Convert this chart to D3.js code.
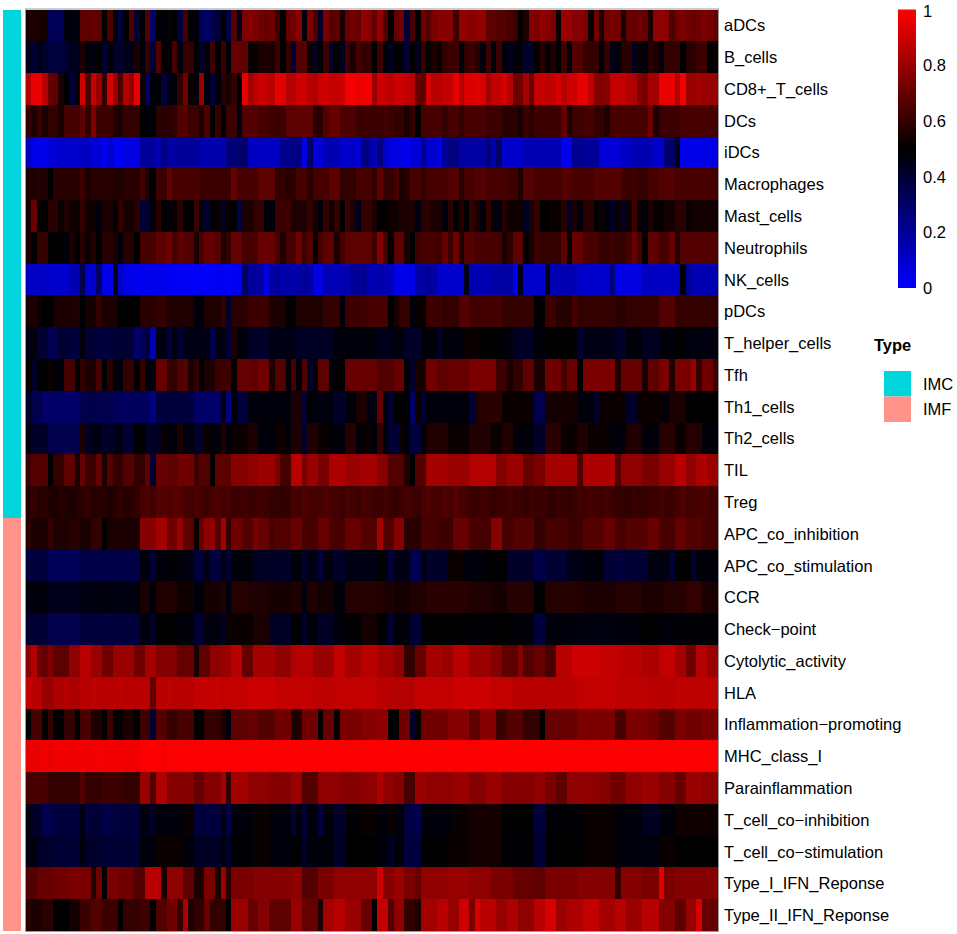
<!DOCTYPE html>
<html>
<head>
<meta charset="utf-8">
<script src="https://cdn.jsdelivr.net/npm/d3@7"></script>
<style>
  body { margin: 0; background: #fff; }
  text { font-family: "Liberation Sans", Arial, sans-serif; }
</style>
</head>
<body>
<script>
// row labels (R prints "-" as a minus sign)
const rowNames = ["aDCs", "B_cells", "CD8+_T_cells", "DCs", "iDCs", "Macrophages", "Mast_cells",
  "Neutrophils", "NK_cells", "pDCs", "T_helper_cells", "Tfh", "Th1_cells", "Th2_cells", "TIL", "Treg",
  "APC_co_inhibition", "APC_co_stimulation", "CCR", "Check\u2212point", "Cytolytic_activity", "HLA",
  "Inflammation\u2212promoting", "MHC_class_I", "Parainflammation", "T_cell_co\u2212inhibition",
  "T_cell_co\u2212stimulation", "Type_I_IFN_Reponse", "Type_II_IFN_Reponse"];
const rowType = ["IMC","IMC","IMC","IMC","IMC","IMC","IMC","IMC","IMC","IMC","IMC","IMC","IMC","IMC","IMC","IMC",
  "IMF","IMF","IMF","IMF","IMF","IMF","IMF","IMF","IMF","IMF","IMF","IMF","IMF"];
const typeNames = ["IMC", "IMF"];
const legendTicks = [0, 0.2, 0.4, 0.6, 0.8, 1];

// scores x100, one array per row, 128 samples each
const aDCs = [55,56,55,54,33,32,34,48,48,47,68,68,70,68,50,65, 48,38,50,65,40,50,66,30,50,48,52,50,38,64,50,47,
  33,30,35,40,50,36,66,45,74,76,74,72,70,72,62,50, 70,72,76,48,74,64,42,74,66,68,55,70,72,70,78,76,
  70,78,66,50,70,72,38,64,50,72,66,74,76,76,76,62, 78,78,76,78,78,68,68,66,66,64,62,50,56,76,74,78,
  76,74,52,80,80,76,76,74,52,72,55,72,74,72,55,70, 70,72,70,55,78,78,76,65,72,74,72,70,72,74,72,70];
const bCells = [45,40,46,42,38,37,38,40,45,44,55,48,47,50,40,48, 42,42,45,46,55,48,60,40,66,50,48,64,48,60,60,50,
  42,47,62,50,62,48,70,70,68,52,52,55,56,55,62,50, 60,40,66,66,52,42,50,62,42,50,44,62,55,64,60,60,
  50,62,50,44,50,48,40,50,45,60,50,55,52,60,62,62, 48,60,62,58,48,62,48,62,48,45,48,48,42,42,50,58,
  48,55,50,62,48,66,66,60,60,60,48,60,45,48,58,58, 44,52,48,58,55,48,60,60,60,50,58,58,62,62,50,52];
const cd8TCells = [85,95,96,86,70,68,55,50,38,52,90,65,88,80,60,92, 80,65,85,78,95,52,30,48,50,38,47,48,60,72,52,48,
  80,48,40,48,58,55,60,50,95,82,86,90,88,86,95,94, 85,86,90,90,86,84,90,90,88,88,90,97,98,96,97,98,
  80,90,88,86,90,90,88,86,70,68,92,86,86,88,88,95, 85,93,93,94,92,82,88,88,92,85,70,72,82,70,88,88,
  87,88,92,86,90,90,95,95,88,76,75,76,88,88,88,85, 84,76,74,82,82,95,96,95,85,97,80,80,82,80,80,80];
const dcs = [60,56,62,55,60,60,55,64,64,63,68,60,75,62,62,62, 56,56,60,60,60,50,48,50,58,58,58,60,66,66,62,62,
  55,65,50,60,50,62,62,46,66,66,66,64,64,62,62,62, 68,68,68,68,68,58,58,66,70,70,65,65,65,62,62,62,
  62,62,63,62,60,60,55,60,50,64,64,64,64,60,64,64, 60,64,64,64,64,62,62,62,58,58,58,55,62,58,62,62,
  62,62,62,70,55,62,62,64,64,60,60,56,64,64,64,64, 64,64,64,72,55,62,62,62,62,64,64,64,64,64,64,64];
const iDCs = [12,5,4,5,8,8,10,10,10,10,12,12,8,8,3,10, 3,3,6,6,6,20,20,20,15,25,18,18,20,20,20,20,
  16,16,16,16,16,26,27,28,30,12,12,12,12,12,12,22, 22,24,25,5,30,8,8,15,15,15,10,10,12,8,25,20,
  15,25,12,6,6,6,3,8,8,22,10,10,5,20,25,25, 18,18,18,18,18,25,15,30,10,10,10,10,15,15,15,15,
  15,15,15,4,4,22,22,20,20,20,8,8,8,8,12,12, 15,15,15,15,10,10,28,30,45,5,5,5,5,5,5,5];
const macrophages = [56,55,57,56,50,58,58,57,58,58,62,55,58,58,57,58, 56,56,58,58,58,63,55,50,62,62,70,64,64,64,64,64,
  62,62,62,62,62,62,70,64,64,64,64,68,68,68,60,60, 58,58,64,64,58,64,64,64,68,68,60,60,60,64,64,64,
  60,68,60,60,64,55,58,64,64,60,64,64,64,64,66,66, 58,64,64,66,66,64,64,64,64,62,62,56,66,66,64,64,
  64,64,64,66,66,64,64,64,64,66,66,66,66,66,62,62, 62,60,60,64,64,66,66,66,64,64,64,64,64,64,64,64];
const mastCells = [55,70,50,50,58,58,52,56,53,53,60,53,53,48,55,55, 50,60,54,54,58,40,40,47,58,50,47,52,58,50,50,62,
  47,42,48,52,42,52,50,35,55,55,60,60,48,48,62,62, 62,56,56,56,60,54,48,60,52,60,50,62,55,45,60,60,
  55,50,50,53,53,55,55,55,47,58,58,55,55,48,58,50, 57,50,60,55,48,60,49,47,58,53,53,53,42,55,60,50,
  50,52,52,58,42,55,48,58,58,50,52,48,43,52,42,53, 62,52,48,55,52,50,54,54,58,58,52,54,54,54,54,54];
const neutrophils = [55,50,60,60,50,50,50,48,55,50,58,52,57,50,58,58, 55,48,57,57,50,64,64,64,68,68,72,64,68,66,66,55,
  64,70,70,66,56,60,70,70,64,64,64,70,70,70,64,56, 64,64,72,62,66,50,64,68,68,55,64,68,68,68,68,68,
  62,76,64,50,68,68,55,50,62,64,64,64,62,70,62,72, 56,66,66,64,64,64,64,64,55,60,68,68,50,55,62,60,
  60,60,60,68,50,70,70,64,64,64,60,60,62,60,60,64, 70,64,50,68,68,64,64,70,56,66,66,66,66,66,66,66];
const nkCells = [12,12,11,12,10,10,10,10,15,15,35,10,10,30,5,5, 45,10,5,4,4,3,4,4,3,4,3,2,2,2,1,2,
  2,1,2,2,3,2,2,3,30,20,20,18,6,18,20,16, 18,15,18,20,18,5,6,15,15,14,16,15,20,20,22,15,
  15,16,15,14,5,5,5,5,18,18,20,18,10,10,10,10, 10,45,15,15,15,15,18,18,18,18,3,45,10,10,10,10,
  45,15,15,15,15,15,10,10,10,10,10,10,25,5,6,6, 6,6,12,12,12,12,12,12,12,50,20,15,15,15,15,15];
const pDCs = [55,55,52,50,50,55,55,55,56,56,50,54,54,60,55,55, 55,50,50,50,50,58,58,58,60,60,56,56,56,56,56,48,
  48,56,56,56,60,42,58,58,58,62,62,62,62,55,55,55, 50,50,56,56,56,56,56,60,60,60,48,62,62,62,62,64,
  64,64,64,50,55,60,60,48,52,52,62,62,62,60,60,60, 66,66,63,63,63,63,63,63,60,60,60,60,60,60,50,50,
  62,62,57,57,57,64,60,60,60,60,60,60,60,58,58,60, 60,60,60,60,60,66,66,66,60,60,60,60,60,60,60,60];
const tHelperCells = [47,47,40,40,35,35,40,40,38,38,47,40,40,38,38,38, 40,40,40,40,30,32,40,15,46,46,38,48,40,46,46,46,
  46,46,35,47,47,40,55,48,48,42,42,42,42,46,46,46, 46,46,43,43,43,43,43,43,43,48,48,48,48,48,48,48,
  48,45,45,45,48,48,42,42,42,48,48,48,42,48,48,48, 48,52,52,52,50,50,50,50,48,48,43,43,43,43,48,48,
  50,50,50,50,50,50,40,46,46,46,46,46,46,42,42,48, 48,48,44,44,44,48,48,48,50,50,47,47,47,47,47,47];
const tfh = [52,42,50,50,52,48,48,64,64,50,60,55,55,64,50,58, 48,48,60,60,50,60,48,48,70,70,60,60,66,66,55,60,
  50,55,55,62,62,62,50,70,70,70,68,72,72,55,66,66, 48,64,48,66,42,50,68,68,48,50,50,70,70,70,70,70,
  70,66,66,66,70,70,50,42,54,54,72,72,68,68,70,70, 70,70,74,74,74,74,74,62,62,55,60,60,68,68,55,55,
  72,72,72,64,70,70,50,74,74,74,74,74,74,56,70,70, 70,70,55,68,68,74,74,56,74,74,74,80,60,72,72,62];
const th1Cells = [42,35,35,30,30,30,30,30,30,30,35,35,36,35,35,35, 32,32,32,32,32,32,32,25,38,38,38,38,38,38,38,30,
  30,30,30,30,48,25,48,38,38,48,48,48,48,48,48,48, 48,55,55,40,50,47,47,47,47,42,42,48,48,55,55,47,
  47,70,48,40,50,50,50,30,52,38,48,48,48,48,48,48, 48,48,40,56,58,58,58,58,52,52,52,52,52,52,35,35,
  54,54,54,54,54,54,48,48,48,42,52,52,52,52,52,42, 42,52,52,52,52,52,48,55,55,55,50,50,50,50,50,50];
const th2Cells = [47,42,42,42,35,35,35,35,35,35,55,42,46,46,42,42, 46,46,40,40,50,50,43,43,43,52,48,48,55,47,47,42,
  42,52,48,48,56,48,52,52,52,55,55,48,48,48,53,53, 48,56,56,42,56,56,52,52,48,48,48,58,58,48,52,52,
  48,60,48,40,40,52,48,38,38,48,56,56,56,56,52,52, 52,52,56,56,56,56,52,52,56,56,48,48,48,48,42,42,
  58,58,58,52,52,52,56,56,52,52,52,52,48,48,48,56, 56,56,48,48,48,58,58,58,52,52,57,57,57,48,48,48];
const til = [62,66,66,66,50,60,60,68,68,55,70,62,62,70,55,66, 60,60,66,66,60,60,68,40,70,70,68,68,72,72,72,62,
  66,66,50,68,68,68,76,76,76,78,78,80,80,80,74,64, 64,86,86,74,80,80,74,74,84,84,84,80,80,80,82,82,
  82,76,76,66,66,66,56,50,66,66,82,82,82,82,80,80, 80,80,85,85,85,85,85,76,76,80,80,80,70,70,74,74,
  82,82,82,82,82,82,65,84,84,84,84,84,84,66,78,78, 78,78,74,74,74,80,80,80,86,86,78,78,84,84,80,80];
const treg = [58,60,57,58,56,55,57,56,55,57,58,60,57,58,58,56, 58,60,57,58,60,64,65,63,66,66,65,67,66,64,63,65,
  64,62,64,65,63,64,62,62,63,61,62,63,62,60,60,59, 60,64,63,65,64,63,64,65,64,63,62,64,63,62,64,63,
  62,62,63,61,60,62,63,62,61,64,65,64,63,65,64,66, 64,63,62,61,63,62,60,62,62,63,61,62,60,62,61,62,
  60,59,61,60,60,61,63,62,64,63,62,63,62,60,60,59, 61,60,60,62,62,63,61,62,64,65,63,64,64,65,63,64];
const apcCoInhibition = [58,55,55,55,60,56,56,56,58,58,55,55,60,60,50,55, 55,55,55,55,55,76,76,76,82,82,72,72,80,68,68,52,
  70,78,78,66,82,60,72,72,66,66,74,70,70,64,66,66, 66,70,70,64,64,64,70,70,64,64,64,70,70,70,66,66,
  66,82,66,66,76,76,58,58,58,64,64,64,62,62,62,70, 70,70,64,64,64,64,76,76,64,64,66,66,66,66,60,60,
  64,64,64,64,62,62,62,66,66,66,66,70,70,64,64,66, 66,66,66,70,70,64,64,64,70,70,66,66,66,64,64,64];
const apcCoStimulation = [38,38,38,38,33,33,33,33,33,33,36,36,36,36,36,36, 36,36,36,36,36,47,47,40,48,48,48,50,47,47,47,38,
  38,46,38,38,47,40,48,48,48,48,43,43,43,43,43,42, 42,48,48,42,46,46,38,47,47,42,42,46,46,46,46,46,
  46,50,48,38,46,46,46,35,35,47,42,42,42,42,52,52, 52,48,48,48,48,50,50,50,50,42,42,42,42,42,36,36,
  40,40,40,40,46,46,46,48,48,48,48,40,40,38,38,40, 40,40,40,47,47,47,47,40,50,50,50,40,48,48,48,48];
const ccr = [48,48,48,48,45,45,45,45,45,45,47,47,46,47,48,47, 47,46,47,47,47,55,55,48,56,56,56,56,53,53,53,48,
  48,54,54,54,56,48,57,57,57,56,56,56,56,54,54,54, 54,56,56,48,56,56,54,54,54,48,48,57,57,57,57,57,
  57,57,55,56,54,54,54,56,56,56,58,58,58,58,58,58, 58,58,56,56,56,56,54,54,54,57,57,57,57,57,50,50,
  57,57,57,57,57,57,57,55,55,55,55,55,55,57,57,57, 57,57,55,55,55,55,57,57,57,57,60,60,60,55,55,55];
const checkPoint = [40,40,40,40,35,35,35,35,35,35,38,38,38,38,38,38, 38,38,38,38,38,47,47,42,50,50,50,50,48,48,48,40,
  40,47,47,47,42,52,52,52,52,52,55,55,55,43,43,43, 43,50,50,42,48,48,43,43,43,48,48,50,50,50,54,54,
  54,50,48,40,48,48,48,40,40,50,50,50,50,50,50,50, 50,50,49,49,49,49,50,50,50,50,48,48,48,48,38,38,
  48,48,48,48,48,48,47,47,47,47,47,47,47,48,48,48, 48,48,50,50,50,48,48,48,49,49,49,49,49,49,49,49];
const cytolyticActivity = [78,85,72,70,75,68,68,68,78,78,86,86,80,80,72,72, 80,80,80,80,72,72,82,82,76,76,76,76,70,70,70,55,
  68,68,78,78,80,80,86,86,70,70,82,82,82,82,78,78, 78,85,85,85,85,80,80,80,80,88,88,82,82,82,86,86,
  86,82,82,82,78,78,60,60,70,70,82,82,82,80,80,86, 86,86,80,80,80,80,76,76,68,68,68,76,66,66,70,70,
  64,64,86,86,86,90,90,90,90,90,88,88,88,88,86,86, 86,86,84,84,84,88,88,88,82,82,72,72,85,85,80,80];
const hla = [88,86,86,80,80,84,84,85,84,84,86,86,87,86,86,86, 86,87,86,86,86,86,86,70,86,86,87,86,86,86,86,88,
  88,88,88,89,88,88,88,88,88,90,90,90,90,90,88,88, 88,88,88,88,88,87,87,87,87,88,88,88,88,88,88,88,
  88,86,86,86,85,85,85,85,88,88,88,88,88,88,88,90, 90,90,90,90,90,90,88,88,88,88,86,86,86,86,86,86,
  86,86,86,86,86,86,88,88,88,88,88,88,88,87,87,87, 87,87,87,86,86,86,86,86,87,87,87,87,87,87,87,87];
const inflammationPromoting = [50,64,64,50,60,50,50,60,60,50,64,64,56,56,50,62, 50,50,55,55,50,62,62,40,66,66,60,60,64,64,64,50,
  50,60,60,60,55,48,68,68,68,70,70,66,66,66,72,72, 72,56,56,72,72,72,50,70,70,50,74,74,74,74,76,76,
  76,78,78,50,50,72,72,42,50,72,72,72,72,72,76,76, 76,76,68,68,76,76,76,62,62,66,66,66,60,60,60,50,
  70,70,70,70,70,70,74,74,74,74,74,74,74,64,64,74, 74,74,74,72,72,66,66,66,74,74,72,72,72,74,74,74];
const mhcClassI = [96,95,96,97,96,97,97,98,97,97,98,97,97,98,97,98, 97,98,97,97,97,99,99,100,99,98,99,99,99,100,99,99,
  99,100,99,99,100,99,99,100,99,99,100,99,100,99,99,100, 99,100,100,99,99,100,100,99,100,100,99,99,100,100,99,100,
  100,99,100,100,99,100,100,99,100,99,100,100,99,100,100,99, 100,100,99,100,100,99,100,100,100,99,100,100,99,100,100,100,
  99,100,100,100,99,100,100,100,99,100,100,99,100,100,100,99, 100,100,100,99,100,100,99,100,100,100,99,100,100,100,100,100];
const parainflammation = [64,64,64,64,60,60,60,60,60,60,66,60,60,60,62,62, 62,62,60,60,60,80,80,66,84,84,76,76,76,76,76,70,
  70,76,76,76,82,60,82,82,82,78,78,78,78,76,76,76, 76,80,80,66,66,66,78,78,78,78,76,76,76,76,78,78,
  78,84,78,78,76,76,64,64,80,80,78,78,78,78,78,80, 80,80,76,76,76,80,80,80,76,76,76,76,76,76,78,78,
  74,74,68,68,78,78,78,78,78,78,76,76,72,72,72,78, 78,78,80,80,80,76,76,76,70,70,80,80,80,78,78,78];
const tCellCoInhibition = [47,42,42,35,35,38,38,38,38,38,46,38,40,40,36,36, 38,38,38,38,38,47,47,42,48,48,48,48,48,52,52,38,
  38,38,38,38,47,36,48,48,48,48,52,52,52,48,48,48, 48,40,48,40,48,48,38,48,48,42,42,49,49,49,52,52,
  52,48,48,52,48,48,38,35,35,48,48,48,48,48,48,52, 52,52,54,54,54,54,54,54,50,50,50,50,50,50,38,38,
  49,49,49,49,49,49,49,52,52,52,52,52,52,48,48,48, 48,48,44,44,44,48,48,48,53,53,53,53,53,53,53,53];
const tCellCoStimulation = [47,47,42,42,42,40,40,40,40,40,47,42,42,42,40,40, 40,40,40,40,40,48,48,48,52,52,52,52,52,48,48,43,
  43,43,43,43,48,42,49,49,49,49,52,52,52,48,48,48, 48,50,50,42,48,48,48,48,48,42,42,50,50,50,50,50,
  50,48,48,43,48,48,38,38,38,50,50,50,50,50,52,52, 52,52,54,54,54,54,54,54,49,49,49,49,49,49,40,40,
  50,50,50,50,50,50,50,52,52,52,52,52,52,48,48,48, 48,48,47,47,47,52,52,52,50,50,50,50,50,50,50,50];
const typeIIfn = [66,66,70,70,70,72,72,72,74,74,74,74,56,72,50,74, 74,72,72,72,66,66,86,86,86,55,78,78,78,68,68,55,
  55,74,74,55,80,58,74,74,74,74,76,76,76,76,76,76, 76,78,78,66,66,66,74,74,74,78,78,78,78,78,78,78,
  78,90,76,76,80,80,74,74,70,78,78,78,78,78,80,80, 80,80,78,78,78,78,74,74,74,74,70,70,70,70,68,68,
  74,74,74,74,74,74,76,76,76,76,76,76,76,60,76,76, 76,76,74,74,74,94,74,74,76,76,76,76,76,76,76,76];
const typeIIIfn = [58,55,55,58,58,50,50,50,54,54,62,62,66,66,62,62, 62,50,60,60,60,62,62,50,66,66,72,72,60,84,56,60,
  60,70,60,60,60,50,80,80,80,70,70,76,76,68,68,68, 68,80,80,70,70,70,55,82,82,86,86,80,80,80,70,70,
  50,88,88,66,78,78,60,60,55,82,82,82,86,86,80,80, 90,90,74,92,86,86,86,80,80,84,84,78,78,78,86,86,
  92,92,80,80,84,84,84,88,88,88,82,82,82,86,86,80, 80,80,86,86,86,76,76,76,68,68,80,80,92,70,70,70];

const matrix = [aDCs, bCells, cd8TCells, dcs, iDCs, macrophages, mastCells, neutrophils, nkCells, pDCs,
  tHelperCells, tfh, th1Cells, th2Cells, til, treg, apcCoInhibition, apcCoStimulation, ccr, checkPoint,
  cytolyticActivity, hla, inflammationPromoting, mhcClassI, parainflammation, tCellCoInhibition,
  tCellCoStimulation, typeIIfn, typeIIIfn];

const width = 957, height = 934;
const svg = d3.select("body").append("svg")
    .attr("width", width)
    .attr("height", height);

const plotTop = 9.5, plotBottom = 931;
const nCols = aDCs.length;
const x = d3.scaleBand().domain(d3.range(nCols)).range([26, 718]);
const y = d3.scaleBand().domain(rowNames).range([plotTop, plotBottom]);

const color = d3.scaleLinear()
    .domain([0, 50, 100])
    .range(["#0000FF", "#000000", "#FF0000"]);
const typeColor = d3.scaleOrdinal().domain(typeNames).range(["#00D5DB", "#FF9289"]);

// heatmap cells
const rowsG = svg.append("g").attr("shape-rendering", "crispEdges");
rowsG.selectAll("g")
    .data(matrix)
    .join("g")
    .attr("transform", (d, i) => `translate(0,${y(rowNames[i])})`)
    .selectAll("rect")
    .data(d => d)
    .join("rect")
    .attr("x", (d, j) => x(j))
    .attr("width", x.bandwidth() + 0.6)
    .attr("height", y.bandwidth() + 0.4)
    .attr("fill", d => color(d));

svg.append("rect")
    .attr("x", 25.5).attr("y", plotTop - 0.5)
    .attr("width", 693).attr("height", plotBottom - plotTop + 1)
    .attr("fill", "none")
    .attr("stroke", "#9a9a9a")
    .attr("stroke-width", 1);

// row annotation bar
svg.append("g").attr("shape-rendering", "crispEdges")
    .selectAll("rect")
    .data(rowNames)
    .join("rect")
    .attr("x", 3)
    .attr("y", d => y(d))
    .attr("width", 18)
    .attr("height", y.bandwidth() + 0.4)
    .attr("fill", (d, i) => typeColor(rowType[i]));

// row labels
svg.append("g")
    .selectAll("text")
    .data(rowNames)
    .join("text")
    .attr("x", 724)
    .attr("y", d => y(d) + y.bandwidth() / 2)
    .attr("dy", "0.36em")
    .attr("font-size", "16.5px")
    .attr("fill", "#000")
    .text(d => d);

// colour legend
const ly = d3.scaleLinear().domain([0, 1]).range([288, plotTop]);
const defs = svg.append("defs");
const grad = defs.append("linearGradient")
    .attr("id", "scoreGrad")
    .attr("x1", 0).attr("y1", 1).attr("x2", 0).attr("y2", 0);
grad.selectAll("stop")
    .data([0, 50, 100])
    .join("stop")
    .attr("offset", d => d + "%")
    .attr("stop-color", d => color(d));

svg.append("rect")
    .attr("x", 898).attr("y", ly(1))
    .attr("width", 18).attr("height", ly(0) - ly(1))
    .attr("fill", "url(#scoreGrad)");

svg.append("g")
    .selectAll("text")
    .data(legendTicks)
    .join("text")
    .attr("x", 923)
    .attr("y", d => ly(d))
    .attr("dy", d => d === 1 ? "0.45em" : "0.36em")
    .attr("font-size", "16.5px")
    .text(d => d);

// Type legend
svg.append("text")
    .attr("x", 874).attr("y", 351)
    .attr("font-size", "16.5px")
    .attr("font-weight", "bold")
    .text("Type");

const typeY = d3.scaleBand().domain(typeNames).range([371, 422]);
svg.append("g")
    .selectAll("rect")
    .data(typeNames)
    .join("rect")
    .attr("x", 884)
    .attr("y", d => typeY(d))
    .attr("width", 27)
    .attr("height", typeY.bandwidth())
    .attr("fill", d => typeColor(d));

svg.append("g")
    .selectAll("text")
    .data(typeNames)
    .join("text")
    .attr("x", 923)
    .attr("y", d => typeY(d) + typeY.bandwidth() / 2)
    .attr("dy", "0.36em")
    .attr("font-size", "16.5px")
    .text(d => d);
</script>
</body>
</html>
